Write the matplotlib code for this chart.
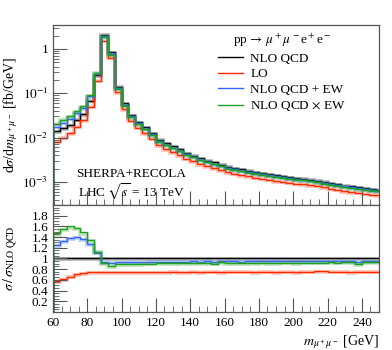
import numpy as np
import matplotlib
matplotlib.use("Agg")
import matplotlib.pyplot as plt
from matplotlib.ticker import MultipleLocator, FixedLocator, LogLocator, NullFormatter

plt.rcParams["font.family"] = ["Liberation Serif", "DejaVu Serif"]
plt.rcParams["mathtext.fontset"] = "stix"
plt.rcParams["font.size"] = 9.5

# bin edges m_mumu [GeV], 4 GeV bins
edges = np.arange(60, 253, 4)

# NLO QCD  dsigma/dm [fb/GeV]
nlo_qcd = np.array([
    0.0141, 0.0162, 0.0191, 0.0251, 0.0339, 0.0676, 0.257, 2.07, 0.841, 0.141,
    0.0589, 0.0324, 0.0224, 0.0170, 0.0126, 0.0089, 0.0074, 0.0063, 0.0054, 0.0045,
    0.0039, 0.0034, 0.0030, 0.00275, 0.00245, 0.00219, 0.00204, 0.00191, 0.00178, 0.00166,
    0.00158, 0.00151, 0.00141, 0.00135, 0.00129, 0.00123, 0.00117, 0.00112, 0.00107, 0.00100,
    0.00093, 0.00089, 0.00083, 0.00079, 0.00076, 0.00072, 0.00069, 0.00066])

# ratios to NLO QCD
ratio_lo = np.array([
    0.57, 0.61, 0.66, 0.70, 0.725, 0.74, 0.745, 0.745, 0.745, 0.745,
    0.745, 0.745, 0.745, 0.745, 0.745, 0.745, 0.745, 0.75, 0.745, 0.745,
    0.75, 0.745, 0.75, 0.75, 0.745, 0.755, 0.75, 0.75, 0.75, 0.745,
    0.75, 0.75, 0.745, 0.75, 0.75, 0.74, 0.75, 0.755, 0.76, 0.76,
    0.755, 0.75, 0.75, 0.74, 0.75, 0.75, 0.75, 0.755])
ratio_add = np.array([
    1.25, 1.33, 1.38, 1.40, 1.36, 1.27, 1.11, 0.925, 0.92, 0.93,
    0.93, 0.935, 0.935, 0.935, 0.94, 0.94, 0.94, 0.94, 0.94, 0.94,
    0.945, 0.94, 0.945, 0.925, 0.945, 0.945, 0.945, 0.94, 0.945, 0.945,
    0.945, 0.945, 0.945, 0.945, 0.95, 0.945, 0.945, 0.95, 0.95, 0.945,
    0.95, 0.945, 0.95, 0.95, 0.935, 0.95, 0.95, 0.95])
ratio_mult = np.array([
    1.47, 1.55, 1.60, 1.57, 1.49, 1.35, 1.13, 0.91, 0.86, 0.89,
    0.895, 0.90, 0.90, 0.905, 0.905, 0.91, 0.91, 0.91, 0.91, 0.915,
    0.915, 0.91, 0.915, 0.905, 0.925, 0.915, 0.915, 0.91, 0.915, 0.915,
    0.92, 0.915, 0.915, 0.92, 0.92, 0.915, 0.92, 0.92, 0.92, 0.92,
    0.925, 0.92, 0.925, 0.925, 0.90, 0.925, 0.925, 0.925])

labels = ["NLO QCD", "LO", "NLO QCD + EW", r"NLO QCD $\times$ EW"]
colors = ["black", "#ff2a00", "#3366ff", "#1fa01f"]
ratios = [np.ones_like(nlo_qcd), ratio_lo, ratio_add, ratio_mult]

fig = plt.figure(figsize=(3.92, 3.5), dpi=100)
ax = fig.add_axes([0.135, 0.414, 0.832, 0.515])
axr = fig.add_axes([0.135, 0.109, 0.832, 0.305], sharex=ax)

for lab, c, r in zip(labels, colors, ratios):
    vals = nlo_qcd * r
    ax.stairs(vals * 0.97, edges, color=c, lw=2.6, alpha=0.3)
    ax.stairs(vals, edges, color=c, lw=1.0, label=lab)
    axr.stairs(r * 0.985, edges, color=c, lw=2.6, alpha=0.3)
    axr.stairs(r, edges, color=c, lw=1.0)

ax.set_yscale("log")
ax.set_xlim(60, 250)
ax.set_ylim(3.0e-4, 3.48)
ax.yaxis.set_major_locator(FixedLocator([1e-3, 1e-2, 1e-1, 1]))
ax.yaxis.set_minor_locator(LogLocator(base=10, subs=np.arange(2, 10)))
ax.yaxis.set_minor_formatter(NullFormatter())
ax.set_yticklabels([r"$10^{-3}$", r"$10^{-2}$", r"$10^{-1}$", "1"])
ax.set_ylabel(r"d$\sigma$/d$m_{\mu^+\mu^-}$ [fb/GeV]", fontsize=10)

axr.set_ylim(0, 2)
axr.yaxis.set_major_locator(MultipleLocator(0.2))
axr.yaxis.set_minor_locator(MultipleLocator(0.05))
rt = np.round(np.arange(0.2, 1.9, 0.2), 1)
axr.set_yticks(rt)
axr.set_yticklabels(["1" if abs(v - 1) < 1e-6 else f"{v:.1f}" for v in rt])
axr.set_ylabel(r"$\sigma\,/\,\sigma_{\mathrm{NLO\ QCD}}$", fontsize=10)
axr.set_xlabel(r"$m_{\mu^+\mu^-}$ [GeV]", loc="right", fontsize=10, labelpad=0)
axr.xaxis.set_major_locator(MultipleLocator(20))
axr.xaxis.set_minor_locator(MultipleLocator(5))
plt.setp(ax.get_xticklabels(), visible=False)

for a in (ax, axr):
    a.tick_params(which="both", direction="in", top=False, right=False, color="#555555")
    a.tick_params(which="major", length=10)
    a.tick_params(which="minor", length=4.5)
    for s in a.spines.values():
        s.set_color("#555555")
        s.set_linewidth(0.9)

ax.yaxis.set_label_coords(-0.1, 0.5)
axr.yaxis.set_label_coords(-0.1, 0.5)
axr.xaxis.set_label_coords(1.0, -0.2)

leg = ax.legend(title=r"pp$\,\to\,\mu^+\mu^-$e$^+$e$^-$", frameon=False,
                loc="upper left", bbox_to_anchor=(0.49, 0.99), borderaxespad=0,
                handlelength=1.9, handletextpad=0.55, labelspacing=0.25,
                fontsize=9.5, title_fontsize=9.5)

ax.text(0.24, 0.17, "SHERPA+RECOLA", transform=ax.transAxes, ha="center", va="center")
ax.text(0.24, 0.075, r"LHC $\sqrt{s}$ = 13 TeV", transform=ax.transAxes, ha="center", va="center")

fig.savefig("out.png", dpi=100)
